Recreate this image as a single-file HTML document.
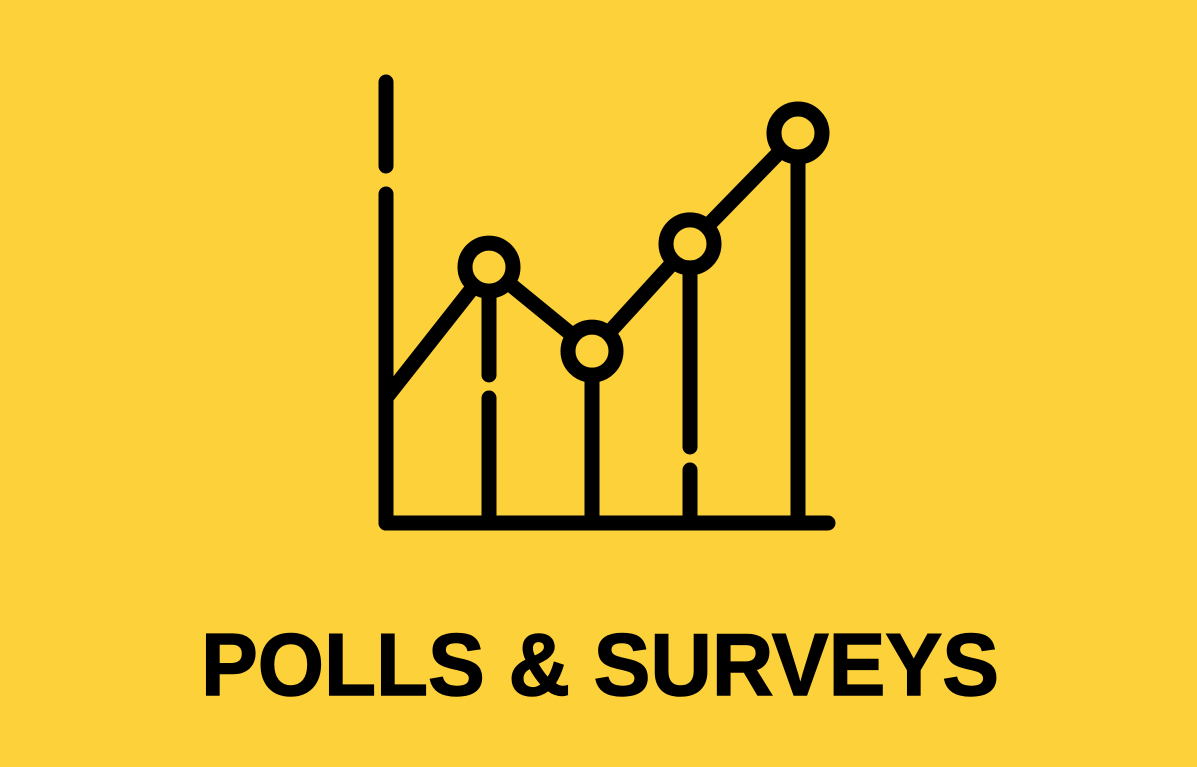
<!DOCTYPE html>
<html><head><meta charset="utf-8"><style>
html,body{margin:0;padding:0;background:#FDD13A;}
svg{display:block}
</style></head><body>
<svg width="1197" height="767" viewBox="0 0 1197 767">
<rect width="1197" height="767" fill="#FDD13A"/>
<g id="chart" stroke="#000" stroke-width="15" stroke-linecap="round" fill="none"></g>
<text x="600" y="695" text-anchor="middle" font-family="Liberation Sans, sans-serif" font-weight="bold" font-size="88" textLength="798" lengthAdjust="spacingAndGlyphs" fill="#000" stroke="#000" stroke-width="1.5">POLLS &amp; SURVEYS</text>
</svg>
<script>
const categories = ["p1","p2","p3","p4"];
const values = [63, 42.3, 68.7, 96];
const startValue = 30.8;
const ns = "http://www.w3.org/2000/svg";
const g = document.getElementById('chart');
const x0 = 386, yBase = 523, xEnd = 828;
const xs = [489, 592, 690, 798];
function yScale(v){ return yBase - v * (yBase - 133) / 96; }
function mk(tag, attrs){ const e = document.createElementNS(ns, tag); for (const k in attrs) e.setAttribute(k, attrs[k]); g.appendChild(e); return e; }
let a1 = mk('line',{x1:x0,y1:82,x2:x0,y2:166});


let a2 = mk('line',{x1:x0,y1:194,x2:x0,y2:yBase});


let a3 = mk('line',{x1:x0,y1:yBase,x2:xEnd,y2:yBase});


let pts = [[x0, yScale(startValue)]].concat(values.map((v,i)=>[xs[i], yScale(v)]));
let pl = mk('polyline',{points: pts.map(p=>p.join(',')).join(' '), 'stroke-linejoin':'round'});


const gaps = [[375,398], null, [447,470], null];
values.forEach((v,i)=>{
  const cy = yScale(v), r = 24;
  const top = cy + r;
  let segs = gaps[i] ? [[top, gaps[i][0]], [gaps[i][1], yBase]] : [[top, yBase]];
  segs.forEach(s=>{
    let d = mk('line',{x1:xs[i],y1:s[0],x2:xs[i],y2:s[1]});
    
    
  });
});
values.forEach((v,i)=>{
  let c = mk('circle',{cx:xs[i], cy:yScale(v), r:24, fill:'#FDD13A'});
  
  
});
</script>
</body></html>
